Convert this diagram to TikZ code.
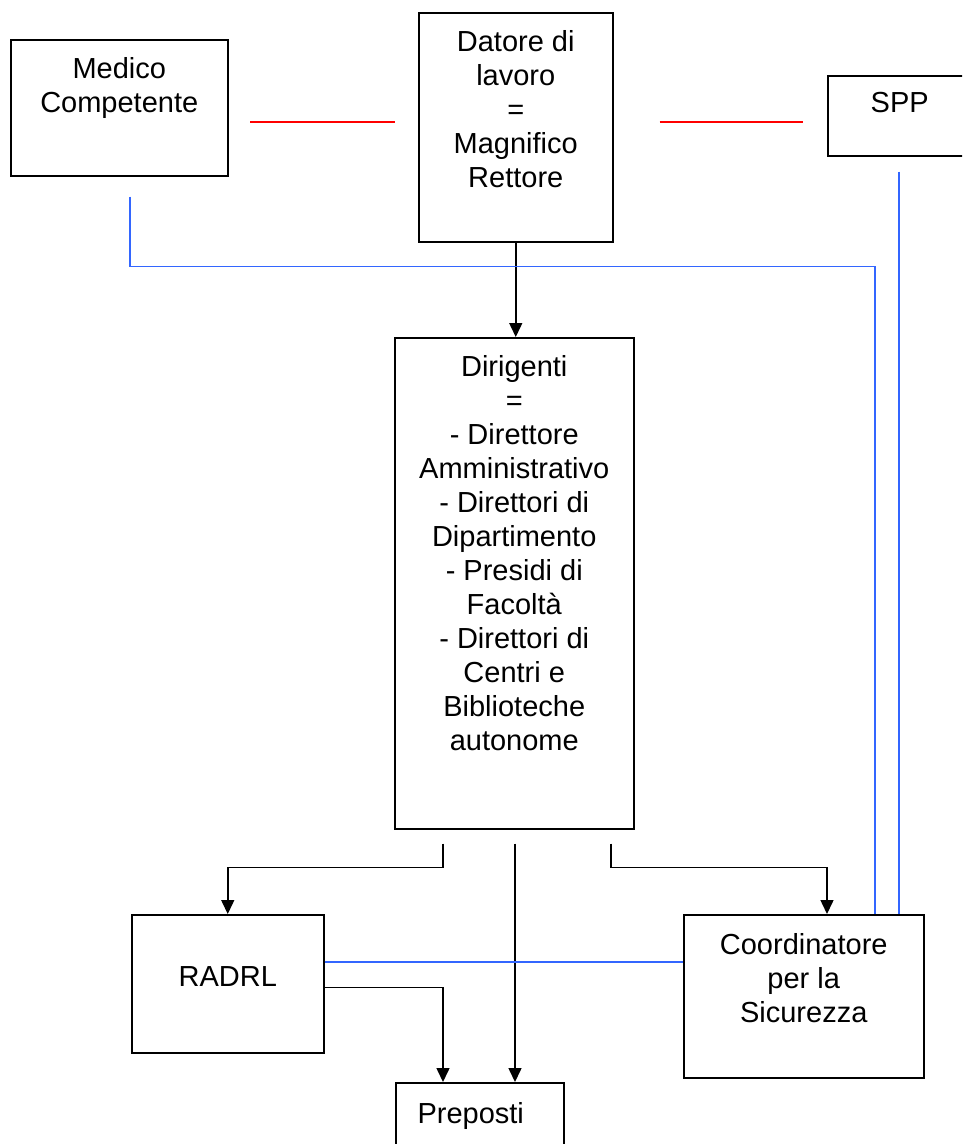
\documentclass[tikz,border=0pt]{standalone}
\usepackage{fontspec}
\setmainfont{Liberation Sans}
\usetikzlibrary{arrows.meta,calc}
\definecolor{linkblu}{HTML}{3366FF}
\tikzset{
  casella/.style={draw=black, line width=1.5pt, anchor=north west, inner sep=0pt},
  testo/.style={anchor=north, align=center, inner sep=0pt, font=\fontsize{29}{34}\selectfont},
  freccia/.style={draw=black, line width=1.5pt, -{Triangle[length=14pt,width=13pt]}},
  blu/.style={draw=linkblu, line width=1.4pt},
  rossa/.style={draw=red, line width=1.2pt},
}
\begin{document}
\begin{tikzpicture}[x=1pt,y=-1pt]
    \clip (0,0) rectangle (962,1144);

    % Caselle
    \node[casella, minimum width=217pt, minimum height=136pt] (medico) at (10,39) {};
    \node[casella, minimum width=194pt, minimum height=229pt] (datore) at (418,12) {};
    \node[casella, minimum width=144pt, minimum height=80pt] (spp) at (827,75) {};
    \node[casella, minimum width=239pt, minimum height=491pt] (dirigenti) at (394,337) {};
    \node[casella, minimum width=192pt, minimum height=138pt] (radrl) at (131,914) {};
    \node[casella, minimum width=240pt, minimum height=163pt] (coord) at (683,914) {};
    \node[casella, minimum width=168pt, minimum height=100pt] (preposti) at (395,1082) {};

    % Testi
    \node[testo] (tmedico) at ($(medico.north)+(0,18)$) {Medico\\Competente};
    \node[testo] (tdatore) at ($(datore.north)+(0,18)$) {Datore di\\lavoro\\=\\Magnifico\\Rettore};
    \node[testo] (tspp) at ($(spp.north)+(0,17)$) {SPP};
    \node[testo] (tdirigenti) at ($(dirigenti.north)+(0,18)$) {Dirigenti\\=\\- Direttore\\Amministrativo\\- Direttori di\\Dipartimento\\- Presidi di\\Facoltà\\- Direttori di\\Centri e\\Biblioteche\\autonome};
    \node[testo] (tradrl) at ($(radrl.north)+(0,52)$) {RADRL};
    \node[testo] (tcoord) at ($(coord.north)+(0,19)$) {Coordinatore\\per la\\Sicurezza};
    \node[testo] (tpreposti) at ($(preposti.north)+(-9,20)$) {Preposti};

    % Linee rosse
    \coordinate (ra1) at ($(datore.north west)+(-168,110)$);
    \coordinate (ra2) at ($(datore.north west)+(-23,110)$);
    \coordinate (rb1) at ($(datore.north east)+(46,110)$);
    \coordinate (rb2) at ($(spp.north west)+(-24,47)$);
    \draw[rossa] (ra1) -- (ra2);
    \draw[rossa] (rb1) -- (rb2);

    % Frecce nere
    \draw[freccia] (datore.south) -- (datore.south |- dirigenti.north);
    \coordinate (dsx) at ($(dirigenti.south west)+(49,14)$);
    \coordinate (dcx) at ($(dirigenti.south west)+(121,14)$);
    \coordinate (ddx) at ($(dirigenti.south west)+(217,14)$);
    \coordinate (cn) at ($(coord.north west)+(144,0)$);
    \draw[freccia] (dsx) -- ++(0,24) -| (radrl.north);
    \draw[freccia] (dcx) -- (dcx |- preposti.north);
    \draw[freccia] (ddx) -- ++(0,24) -| (cn);
    \coordinate (rp) at ($(radrl.south east)+(0,-66)$);
    \draw[freccia] (rp) -| (dsx |- preposti.north);

    % Linee blu
    \coordinate (rbl) at ($(radrl.north east)+(0,48)$);
    \draw[blu] (rbl) -- (rbl -| coord.west);
    \coordinate (mb) at ($(medico.south west)+(120,20)$);
    \coordinate (cm) at ($(coord.north west)+(192,0)$);
    \draw[blu] (mb) -- ++(0,70) -| (cm);
    \coordinate (sb) at ($(spp.south west)+(72,15)$);
    \coordinate (cs) at ($(coord.north west)+(216,0)$);
    \draw[blu] (sb) -- (cs);
\end{tikzpicture}
\end{document}
